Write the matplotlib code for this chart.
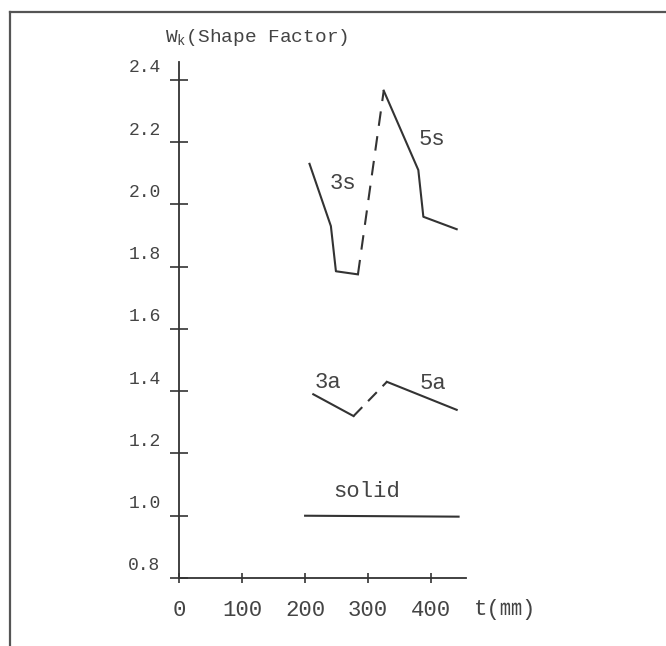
import numpy as np
import matplotlib as mpl
import matplotlib.pyplot as plt
import matplotlib.transforms as mtransforms
from matplotlib.lines import Line2D

plt.rcParams['font.family'] = ['Liberation Mono', 'Noto Sans CJK JP', 'DejaVu Sans']
ink = '#333333'
txt = '#444444'

# data
t_3s = [207, 241, 249, 284]
w_3s = [2.13, 1.93, 1.785, 1.775]
t_3s5s = [284, 325]
w_3s5s = [1.775, 2.365]
t_5s = [325, 380, 388, 441]
w_5s = [2.365, 2.11, 1.96, 1.92]

t_3a = [213, 277]
w_3a = [1.39, 1.32]
t_3a5a = [277, 330]
w_3a5a = [1.32, 1.43]
t_5a = [330, 441]
w_5a = [1.43, 1.34]

t_solid = [200, 444]
w_solid = [1.0, 0.997]

xticks = [0, 100, 200, 300, 400]
yticks = [0.8, 1.0, 1.2, 1.4, 1.6, 1.8, 2.0, 2.2, 2.4]

fig = plt.figure(figsize=(6.66, 6.46), dpi=100)
W, H = 666, 646
ax = fig.add_axes([179.3 / W, 68 / H, 286.2 / W, 516 / H])

lw = 1.5
ax.plot(t_3s, w_3s, color=ink, lw=lw)
ax.plot(t_3s5s, w_3s5s, color=ink, lw=lw, dashes=(7, 5))
ax.plot(t_5s, w_5s, color=ink, lw=lw)
ax.plot(t_3a, w_3a, color=ink, lw=lw)
ax.plot(t_3a5a, w_3a5a, color=ink, lw=lw, dashes=(6, 4))
ax.plot(t_5a, w_5a, color=ink, lw=lw)
ax.plot(t_solid, w_solid, color=ink, lw=lw)

lab = dict(color=txt, fontsize=16, ha='center', va='center')
ax.text(260, 2.067, '3s', **lab)
ax.text(401, 2.209, '5s', **lab)
ax.text(237, 1.427, '3a', **lab)
ax.text(404, 1.423, '5a', **lab)
ax.text(298, 1.077, 'solid', **lab)

ax.set_xlim(0, 455)
ax.set_ylim(0.8, 2.457)
for s in ['top', 'right']:
    ax.spines[s].set_visible(False)
for s in ['left', 'bottom']:
    ax.spines[s].set_color(ink)
    ax.spines[s].set_linewidth(1.3)

ax.set_xticks(xticks)
ax.set_xticklabels([str(v) for v in xticks])
ax.set_yticks(yticks)
ax.set_yticklabels(['%.1f' % v for v in yticks])
ax.tick_params(axis='y', direction='inout', length=13, width=1.2, color=ink,
               labelcolor=txt, labelsize=13, pad=7)
ax.tick_params(axis='x', direction='inout', length=7, width=1.2, color=ink,
               labelcolor=txt, labelsize=16, pad=12)

# y labels sit a bit above their ticks in the original
off = mtransforms.ScaledTranslation(0, 14 / 100, fig.dpi_scale_trans)
for t in ax.get_yticklabels():
    t.set_transform(t.get_transform() + off)

fig.text(505 / W, 1 - 610 / H, 't(\u339c)', color=txt, fontsize=16,
         ha='center', va='center')
fig.text(165 / W, 1 - 37 / H, r'W$_\mathregular{k}$(Shape Factor)', color=txt,
         fontsize=14, ha='left', va='center')

# scanned frame, cut at right and bottom
fig.add_artist(Line2D([10 / W, 1.0], [1 - 12 / H, 1 - 12 / H], color='#555555', lw=1.6,
                      transform=fig.transFigure))
fig.add_artist(Line2D([10 / W, 10 / W], [0, 1 - 12 / H], color='#555555', lw=1.6,
                      transform=fig.transFigure))

fig.savefig('out.png', dpi=100)
